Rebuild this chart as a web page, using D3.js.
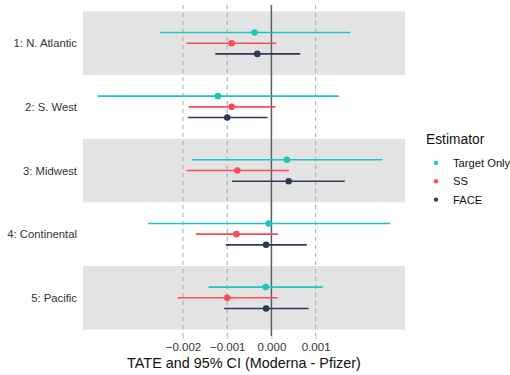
<!DOCTYPE html>
<html>
<head>
<meta charset="utf-8">
<script src="https://cdn.jsdelivr.net/npm/d3@7.9.0/dist/d3.min.js"></script>
<style>
  body { margin: 0; background: #fff; }
  text { font-family: "Liberation Sans", Arial, sans-serif; }
</style>
</head>
<body>
<svg id="chart" width="510" height="375"></svg>
<script>
// regions, top to bottom
const regions = ['1: N. Atlantic', '2: S. West', '3: Midwest', '4: Continental', '5: Pacific'];
const estimators = ['Target Only', 'SS', 'FACE'];
const colors = ['#1cc5c0', '#fa4b55', '#2c3a57'];

// point estimates and CI bounds (x 0.001), one array per estimator, ordered like regions
const targetEst = [-0.38, -1.21, 0.35, -0.06, -0.13];
const targetLo  = [-2.52, -3.93, -1.79, -2.79, -1.42];
const targetHi  = [1.78, 1.53, 2.51, 2.69, 1.16];

const ssEst = [-0.90, -0.90, -0.77, -0.79, -1.00];
const ssLo  = [-1.92, -1.87, -1.92, -1.71, -2.12];
const ssHi  = [0.11, 0.09, 0.40, 0.15, 0.14];

const faceEst = [-0.32, -1.00, 0.39, -0.12, -0.12];
const faceLo  = [-1.27, -1.89, -0.89, -1.03, -1.07];
const faceHi  = [0.65, -0.09, 1.66, 0.80, 0.84];

const xTicks = [-0.002, -0.001, 0, 0.001];

const series = [
  { name: estimators[0], est: targetEst, lo: targetLo, hi: targetHi },
  { name: estimators[1], est: ssEst, lo: ssLo, hi: ssHi },
  { name: estimators[2], est: faceEst, lo: faceLo, hi: faceHi },
];

const rows = [];
series.forEach((s, si) => {
  regions.forEach((r, ri) => {
    rows.push({
      region: r, estimator: s.name, idx: si,
      est: s.est[ri] / 1000, lo: s.lo[ri] / 1000, hi: s.hi[ri] / 1000
    });
  });
});

const svg = d3.select('#chart');
const panelL = 83, panelR = 405, panelT = 5, panelB = 336;

const xMin = d3.min(rows, d => d.lo), xMax = d3.max(rows, d => d.hi);
const pad = (xMax - xMin) * 0.05;
const x = d3.scaleLinear().domain([xMin - pad, xMax + pad]).range([panelL, panelR]);

const step = (panelB - panelT) / (regions.length - 1 + 1.2);
const y = d3.scalePoint().domain(regions).range([panelT + 0.6 * step, panelB - 0.6 * step]);
const dodge = d3.scalePoint().domain(estimators).range([-10.7, 10.7]);

// alternating bands
svg.append('g').selectAll('rect')
  .data(regions.filter((d, i) => i % 2 === 0))
  .join('rect')
  .attr('x', panelL).attr('width', panelR - panelL)
  .attr('y', d => y(d) - step / 2).attr('height', step)
  .attr('fill', '#e3e3e3');

// dashed reference lines
svg.append('g').selectAll('line')
  .data(xTicks.filter(d => d !== 0))
  .join('line')
  .attr('x1', d => x(d)).attr('x2', d => x(d))
  .attr('y1', panelT).attr('y2', panelB)
  .attr('stroke', '#a6a6a6').attr('stroke-width', 1)
  .attr('stroke-dasharray', '4,4');

svg.append('line')
  .attr('x1', x(0)).attr('x2', x(0))
  .attr('y1', panelT).attr('y2', panelB)
  .attr('stroke', '#5e5e5e').attr('stroke-width', 1.5);

// intervals
const g = svg.append('g');
g.selectAll('line')
  .data(rows)
  .join('line')
  .attr('x1', d => x(d.lo)).attr('x2', d => x(d.hi))
  .attr('y1', d => y(d.region) + dodge(d.estimator))
  .attr('y2', d => y(d.region) + dodge(d.estimator))
  .attr('stroke', d => colors[d.idx])
  .attr('stroke-width', 1.6);

g.selectAll('circle')
  .data(rows)
  .join('circle')
  .attr('cx', d => x(d.est))
  .attr('cy', d => y(d.region) + dodge(d.estimator))
  .attr('r', 3.3)
  .attr('fill', d => colors[d.idx]);

// x axis
const xAxis = svg.append('g')
  .attr('transform', `translate(0,${panelB})`)
  .call(d3.axisBottom(x).tickValues(xTicks).tickFormat(d3.format('.3f')).tickSize(3).tickPadding(4));
xAxis.select('.domain').remove();
xAxis.selectAll('line').attr('stroke', '#c8c8c8');
xAxis.selectAll('text').attr('font-size', 11.5).attr('fill', '#333')
  .style('font-family', '"Liberation Sans", Arial, sans-serif');

// y axis
const yAxis = svg.append('g')
  .attr('transform', `translate(${panelL},0)`)
  .call(d3.axisLeft(y).tickSize(0).tickPadding(6));
yAxis.select('.domain').remove();
yAxis.selectAll('text').attr('font-size', 11.3).attr('fill', '#333')
  .style('font-family', '"Liberation Sans", Arial, sans-serif');

svg.append('text')
  .attr('x', (panelL + panelR) / 2).attr('y', 368)
  .attr('text-anchor', 'middle')
  .attr('font-size', 14.4).attr('fill', '#111')
  .text('TATE and 95% CI (Moderna - Pfizer)');

// legend
const legend = svg.append('g').attr('transform', 'translate(426,0)');
legend.append('text')
  .attr('x', 0).attr('y', 144)
  .attr('font-size', 13.8).attr('fill', '#111')
  .text('Estimator');
const items = legend.selectAll('g.item')
  .data(estimators)
  .join('g')
  .attr('class', 'item')
  .attr('transform', (d, i) => `translate(0,${163 + i * 18.3})`);
items.append('circle').attr('cx', 10).attr('cy', 0).attr('r', 2.2)
  .attr('fill', (d, i) => colors[i]);
items.append('text').attr('x', 27).attr('y', 4)
  .attr('font-size', 11.2).attr('fill', '#111')
  .text(d => d);
</script>
</body>
</html>
